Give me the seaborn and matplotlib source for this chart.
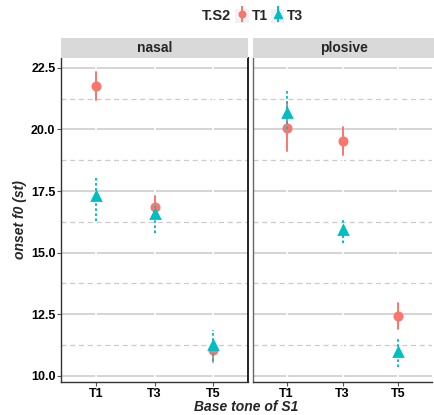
import numpy as np
import pandas as pd
import matplotlib
matplotlib.use("Agg")
import matplotlib.pyplot as plt
from matplotlib.lines import Line2D
from matplotlib.patches import Patch
from matplotlib.legend_handler import HandlerTuple
import seaborn as sns

# mean and interval ends per manner / base tone / S2 tone
MANNERS = ["nasal", "plosive"]
TONES_S1 = ["T1", "T3", "T5"]
TONES_S2 = ["T1", "T3"]

nasal_t1_mean = [21.77, 16.86, 11.04]
nasal_t1_lo = [21.20, 16.40, 10.56]
nasal_t1_hi = [22.35, 17.30, 11.45]
nasal_t3_mean = [17.30, 16.57, 11.24]
nasal_t3_lo = [16.30, 15.80, 10.60]
nasal_t3_hi = [18.10, 16.90, 11.85]

plosive_t1_mean = [20.07, 19.55, 12.42]
plosive_t1_lo = [19.13, 18.96, 11.90]
plosive_t1_hi = [21.13, 20.10, 12.95]
plosive_t3_mean = [20.68, 15.90, 10.95]
plosive_t3_lo = [20.00, 15.39, 10.35]
plosive_t3_hi = [21.60, 16.42, 11.52]

COLORS = {"T1": "#F8766D", "T3": "#00BFC4"}
MARKERS = {"T1": "o", "T3": "^"}
SIZES = {"T1": 5.2, "T3": 6.2}
STYLES = {"T1": "-", "T3": (0, (1.3, 1.3))}

series = {
    ("nasal", "T1"): (nasal_t1_lo, nasal_t1_mean, nasal_t1_hi),
    ("nasal", "T3"): (nasal_t3_lo, nasal_t3_mean, nasal_t3_hi),
    ("plosive", "T1"): (plosive_t1_lo, plosive_t1_mean, plosive_t1_hi),
    ("plosive", "T3"): (plosive_t3_lo, plosive_t3_mean, plosive_t3_hi),
}

rows = []
for (manner, s2), (lo, mean, hi) in series.items():
    for i, s1 in enumerate(TONES_S1):
        for v in (lo[i], mean[i], hi[i]):
            rows.append({"manner": manner, "S1": s1, "T.S2": s2, "f0": v})
df = pd.DataFrame(rows)

sns.set_theme(style="white")
plt.rcParams["font.family"] = ["Liberation Sans", "DejaVu Sans"]
plt.rcParams["font.weight"] = "bold"

fig = plt.figure(figsize=(4.34, 4.15), dpi=100)
W, H = 434, 415
bottom, top = 1 - 382 / H, 1 - 58 / H
panels = {"nasal": (61, 248), "plosive": (253, 432)}

for manner, (x0, x1) in panels.items():
    ax = fig.add_axes([x0 / W, bottom, (x1 - x0) / W, top - bottom])
    for y in np.arange(11.25, 22.5, 2.5):
        ax.axhline(y, color="#CBCBCB", lw=0.9, ls=(0, (4, 3)), zorder=0)
    for y in np.arange(10, 23, 2.5):
        ax.axhline(y, color="#C9C9C9", lw=1.1, zorder=0)
    for x in range(3):
        ax.axvline(x, color="white", lw=1.2, zorder=0.5)
    for s2 in TONES_S2:
        sub = df[(df["manner"] == manner) & (df["T.S2"] == s2)]
        sns.pointplot(data=sub, x="S1", y="f0", order=TONES_S1,
                      estimator="median", errorbar=lambda v: (v.min(), v.max()),
                      color=COLORS[s2], marker=MARKERS[s2], markersize=SIZES[s2],
                      linestyle="none", err_kws={"linewidth": 1.4, "linestyle": STYLES[s2]},
                      ax=ax)
    ax.set_xlim(-0.6, 2.6)
    ax.set_ylim(9.75, 22.9)
    ax.set_yticks(np.arange(10, 23, 2.5))
    ax.set_xlabel("")
    ax.set_ylabel("")
    for side in ["top", "right"]:
        ax.spines[side].set_visible(False)
    ax.spines["left"].set_color("#333333")
    ax.spines["bottom"].set_color("#333333")
    ax.spines["left"].set_linewidth(1.0)
    ax.spines["bottom"].set_linewidth(1.0)
    ax.tick_params(axis="both", length=3, width=0.8, color="#555555", labelsize=9,
                   labelcolor="black", pad=1, left=True, bottom=True)
    if manner == "nasal":
        ax.spines["right"].set_visible(True)
        ax.spines["right"].set_color("#222222")
        ax.spines["right"].set_linewidth(1.4)
        ax.set_yticklabels([f"{v:.1f}" for v in np.arange(10, 23, 2.5)])
        ax.set_ylabel("onset f0 (st)", fontsize=10, fontweight="bold", style="italic", labelpad=3)
    else:
        ax.set_yticklabels([])
        ax.tick_params(axis="y", left=False)
        ax.spines["left"].set_color("#666666")
    for lab in ax.get_xticklabels() + ax.get_yticklabels():
        lab.set_fontweight("bold")
    sx = fig.add_axes([x0 / W, 1 - 58 / H, (x1 - x0 + (2 if manner == "plosive" else 0)) / W, 20 / H])
    sx.set_facecolor("#D9D9D9")
    sx.set_xticks([])
    sx.set_yticks([])
    for s in sx.spines.values():
        s.set_visible(False)
    sx.text(0.5, 0.5, manner, ha="center", va="center", fontsize=10, fontweight="bold",
            transform=sx.transAxes)

fig.text((61 + 432) / 2 / W, 1 - 407 / H, "Base tone of S1", ha="center", va="center",
         fontsize=10, fontweight="bold", style="italic")

handles = []
for s in TONES_S2:
    bg = Patch(facecolor="#F2F2F2", edgecolor="none")
    bar = Line2D([0], [0], color=COLORS[s], marker="|", markersize=11, markeredgewidth=1.4,
                 linestyle="none")
    pt = Line2D([0], [0], color=COLORS[s], marker=MARKERS[s], markersize=SIZES[s] - 0.5,
                linestyle="none")
    handles.append((bg, bar, pt))
fig.text(216 / W, 1 - 16 / H, "T.S2", ha="center", va="center", fontsize=10.5, fontweight="bold")
fig.legend(handles, TONES_S2, loc="center left", bbox_to_anchor=(235 / W, 1 - 16 / H), ncol=2,
           frameon=False, handlelength=1.0, handleheight=1.2, handletextpad=0.2,
           columnspacing=0.2, borderaxespad=0, borderpad=0,
           handler_map={tuple: HandlerTuple(ndivide=1, pad=0)},
           prop={"weight": "bold", "size": 10})

fig.savefig("out.png", dpi=100)
